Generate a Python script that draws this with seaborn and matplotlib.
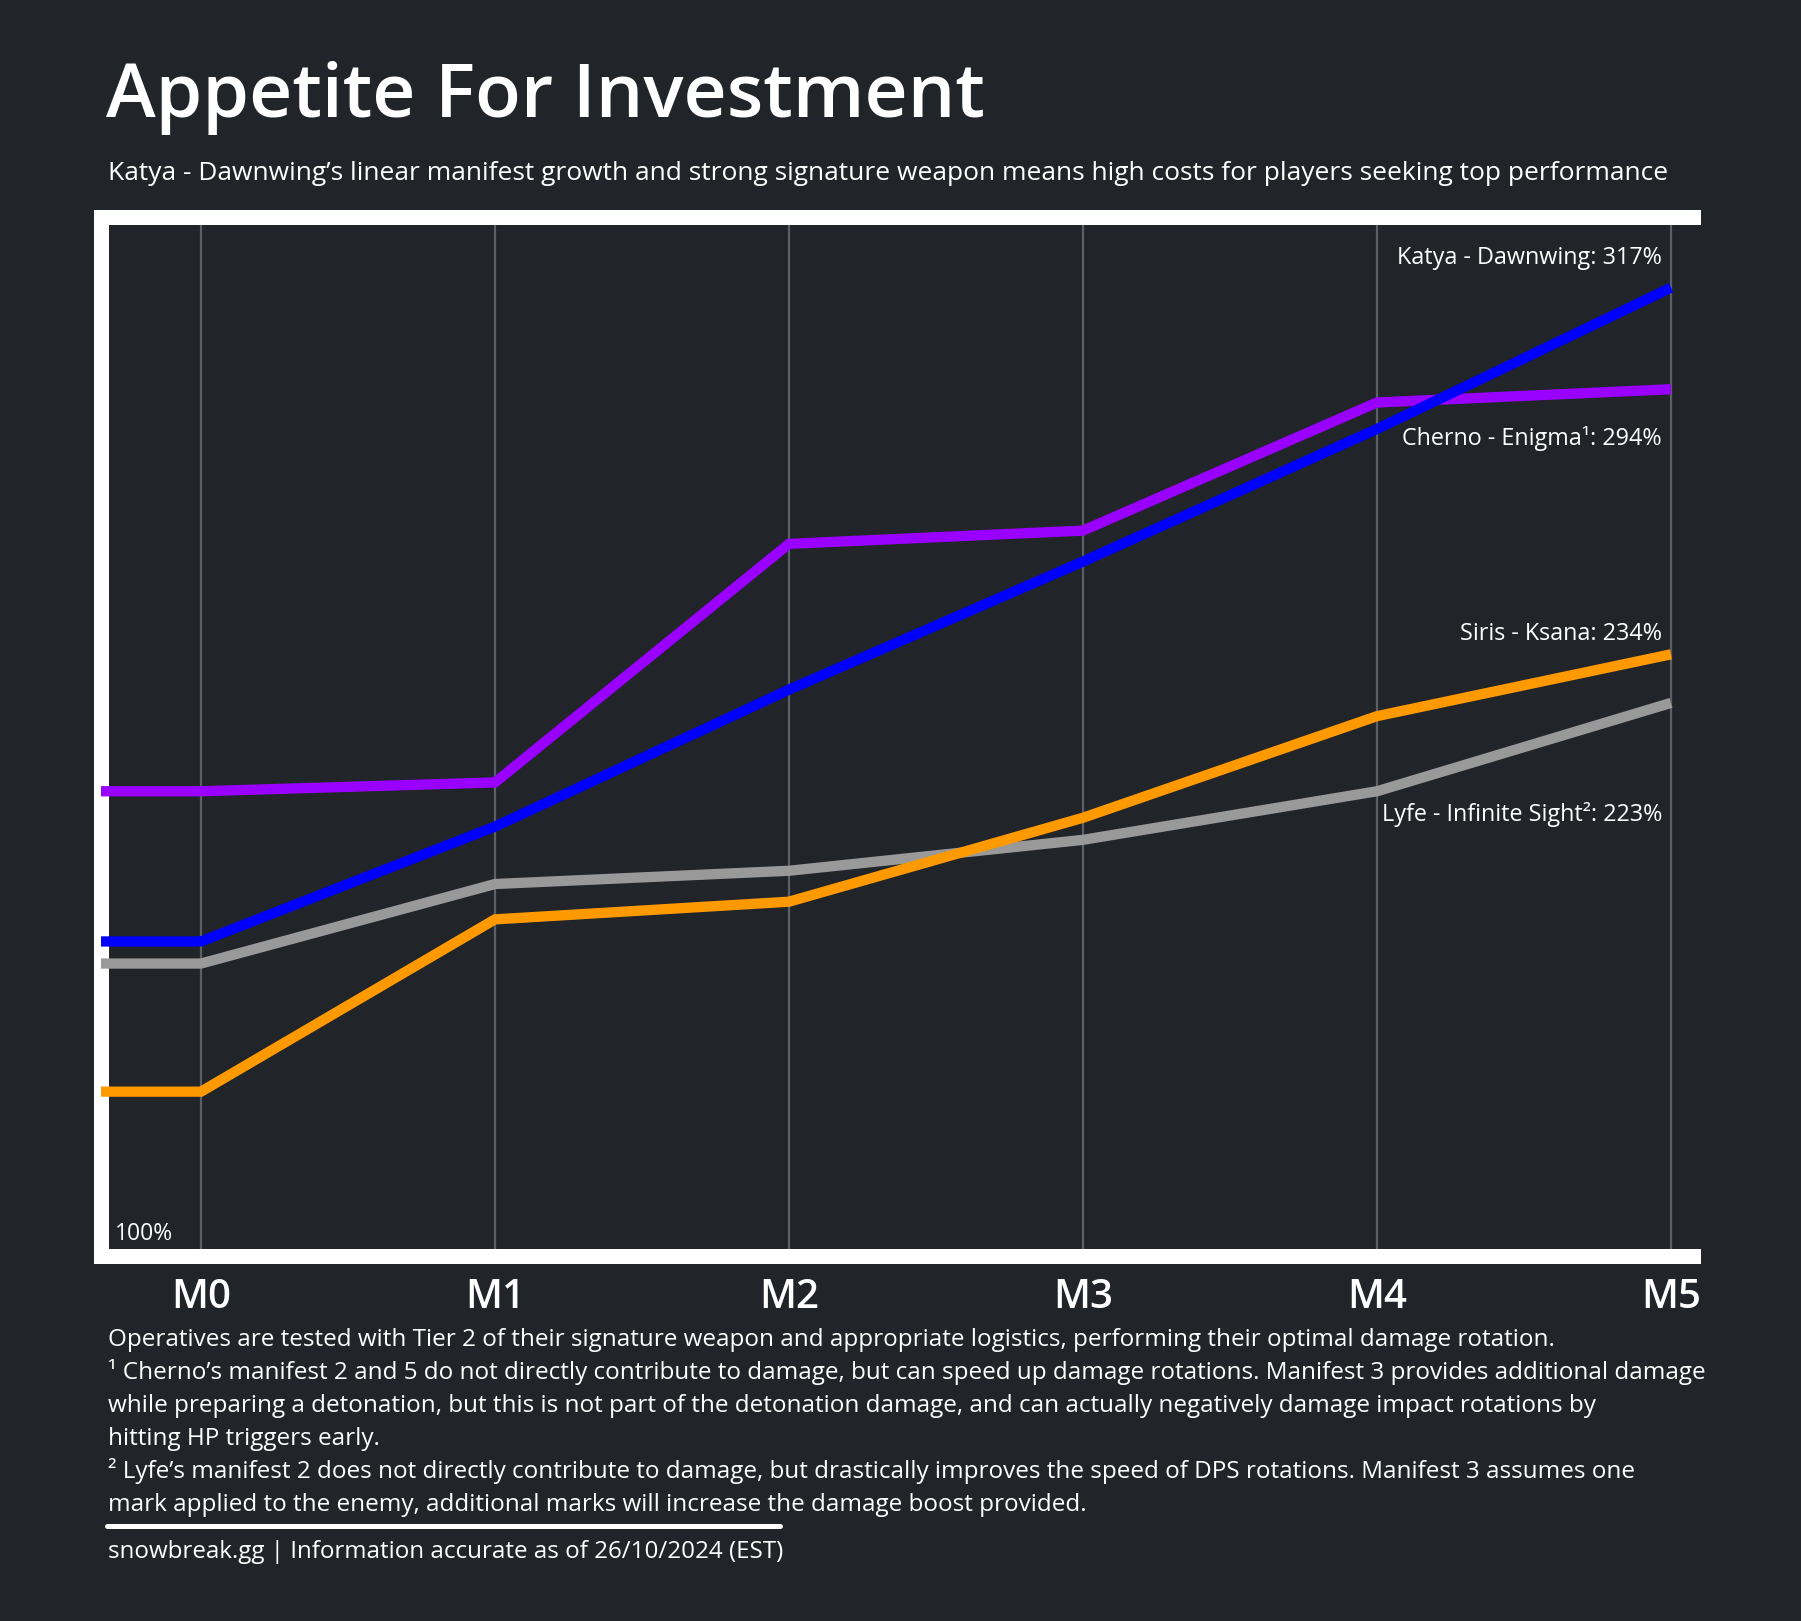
import matplotlib
matplotlib.use("Agg")
import matplotlib.pyplot as plt
import seaborn as sns
import pandas as pd
from matplotlib.lines import Line2D

# ---- data ----
manifests = ["M0", "M1", "M2", "M3", "M4", "M5"]
katya = [169, 195, 226, 255, 285, 317]
cherno = [203, 205, 259, 262, 291, 294]
siris = [135, 174, 178, 197, 220, 234]
lyfe = [164, 182, 185, 192, 203, 223]

series_names = ["Lyfe - Infinite Sight²", "Siris - Ksana", "Cherno - Enigma¹", "Katya - Dawnwing"]
series_values = [lyfe, siris, cherno, katya]
series_colors = ["#999999", "#FF9900", "#9900FF", "#0000FF"]

BG = "#212429"
FONT = ["Open Sans", "DejaVu Sans"]

W, H = 1801, 1621
XMIN, XMAX = -100.5 / 294, (1693 - 201) / 294

rows = []
for name, vals in zip(series_names, series_values):
    # lines run in from the left frame at the M0 level
    rows.append({"pos": XMIN, "value": vals[0], "operative": name})
    for i, v in enumerate(vals):
        rows.append({"pos": i, "value": v, "operative": name})
df = pd.DataFrame(rows)

sns.set_theme(style="dark")
plt.rcParams["font.family"] = FONT

fig = plt.figure(figsize=(W / 100, H / 100), dpi=100, facecolor=BG)
ax_l, ax_r = 100.5 / W, 1693 / W
ax_b, ax_t = 1 - 1256 / H, 1 - 216.5 / H
ax = fig.add_axes([ax_l, ax_b, ax_r - ax_l, ax_t - ax_b])
ax.set_facecolor(BG)

for x in range(len(manifests)):
    ax.axvline(x, color="#5c6066", lw=1.6, zorder=1)

sns.lineplot(data=df, x="pos", y="value", hue="operative",
             hue_order=series_names, palette=dict(zip(series_names, series_colors)),
             linewidth=7.4, legend=False, ax=ax, zorder=3)
for ln in ax.lines[len(manifests):]:
    ln.set_solid_joinstyle("miter")
    ln.set_solid_capstyle("butt")

ax.set_xlim(XMIN, XMAX)
ax.set_ylim(97.8, 333.1)
ax.set_xticks(range(len(manifests)))
ax.set_xticklabels(manifests)
ax.set_yticks([])
ax.set_xlabel("")
ax.set_ylabel("")
ax.tick_params(axis="x", length=0, pad=16, labelsize=29, labelcolor="white")
for t in ax.get_xticklabels():
    t.set_fontweight("semibold")
ax.grid(False)

for s in ["top", "left", "bottom"]:
    ax.spines[s].set_visible(True)
    ax.spines[s].set_color("white")
    ax.spines[s].set_linewidth(10.8)
ax.spines["right"].set_visible(False)

# end labels
label_offsets = {"Katya - Dawnwing": 30, "Cherno - Enigma¹": -49,
                 "Siris - Ksana": 20, "Lyfe - Infinite Sight²": -112}
for name, vals in zip(series_names, series_values):
    ax.annotate(f"{name}: {vals[-1]}%", xy=(5, vals[-1]),
                xytext=(-9, label_offsets[name]), textcoords="offset pixels",
                ha="right", va="center", color="white", fontsize=16.8, zorder=5)

fig.text(115 / W, 1 - 1240 / H, "100%", color="white", fontsize=16.5,
         va="baseline", ha="left")

# titles
fig.text(106 / W, 1 - 117 / H, "Appetite For Investment", color="white",
         fontsize=54, fontweight="semibold", va="baseline", ha="left")
fig.text(108 / W, 1 - 180 / H,
         "Katya - Dawnwing’s linear manifest growth and strong signature weapon means high costs for players seeking top performance",
         color="white", fontsize=19, va="baseline", ha="left")

notes = [
    "Operatives are tested with Tier 2 of their signature weapon and appropriate logistics, performing their optimal damage rotation.",
    "¹ Cherno’s manifest 2 and 5 do not directly contribute to damage, but can speed up damage rotations. Manifest 3 provides additional damage",
    "while preparing a detonation, but this is not part of the detonation damage, and can actually negatively damage impact rotations by",
    "hitting HP triggers early.",
    "² Lyfe’s manifest 2 does not directly contribute to damage, but drastically improves the speed of DPS rotations. Manifest 3 assumes one",
    "mark applied to the enemy, additional marks will increase the damage boost provided.",
]
for i, t in enumerate(notes):
    fig.text(108 / W, 1 - (1346 + 33 * i) / H, t, color="white", fontsize=17.5,
             va="baseline", ha="left")

fig.add_artist(Line2D([107 / W, 780 / W], [1 - 1526 / H, 1 - 1526 / H],
                      color="white", lw=3.6, transform=fig.transFigure))
fig.text(108 / W, 1 - 1558 / H, "snowbreak.gg | Information accurate as of 26/10/2024 (EST)",
         color="white", fontsize=17.4, va="baseline", ha="left")

fig.savefig("out.png", dpi=100, facecolor=BG)
